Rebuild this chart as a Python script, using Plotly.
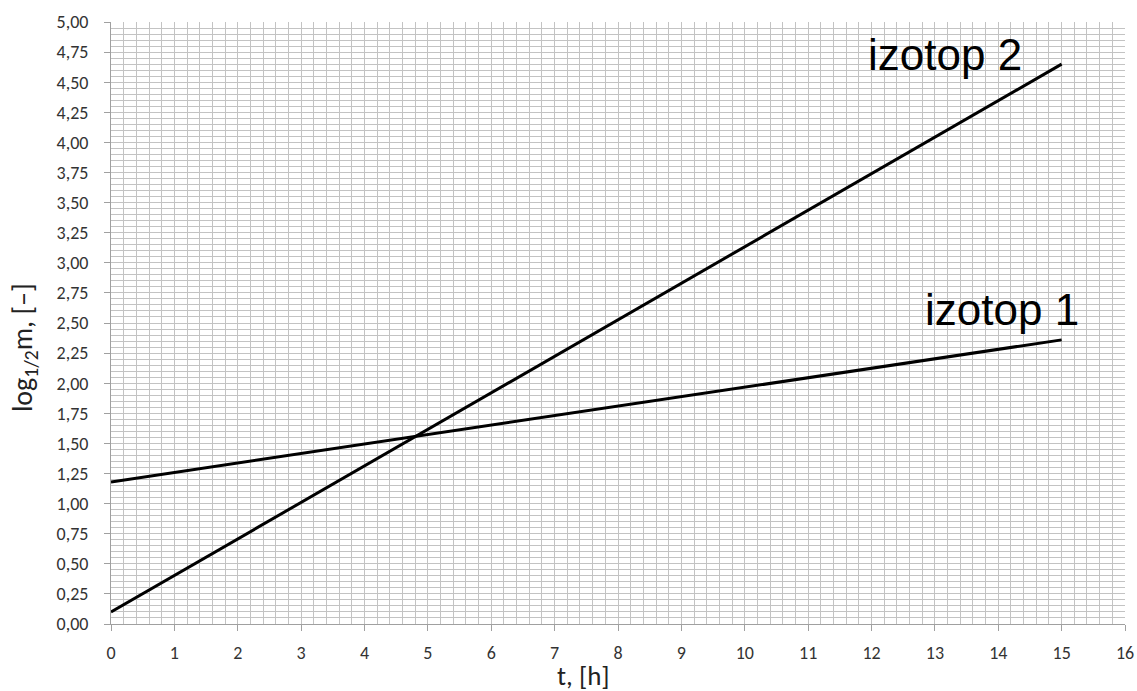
import plotly.graph_objects as go

t_values = [0, 15]
izotop1 = [1.18, 2.36]
izotop2 = [0.10, 4.65]
series_names = ["izotop 1", "izotop 2"]
label_pos = {"izotop 1": (14.06, 2.61), "izotop 2": (13.16, 4.73)}

fig = go.Figure()
for name, vals in zip(series_names, [izotop1, izotop2]):
    fig.add_trace(go.Scatter(x=t_values, y=vals, mode="lines", name=name,
                             line=dict(color="black", width=3), showlegend=False))
    lx, ly = label_pos[name]
    fig.add_annotation(x=lx, y=ly, text=name, showarrow=False,
                       font=dict(family="Liberation Sans, Arial", size=44, color="black"))

tfont = "Carlito, Liberation Sans, Arial"
fig.add_annotation(xref="paper", yref="paper", x=0.4655, y=-0.085, text="t, [h]",
                   showarrow=False, xanchor="center", yanchor="middle",
                   font=dict(family=tfont, size=27, color="#222"))
fig.add_annotation(xref="paper", yref="paper", x=-0.0858, y=0.46, text="log<sub>1/2</sub>m, [–]",
                   showarrow=False, xanchor="center", yanchor="middle", textangle=-90,
                   font=dict(family=tfont, size=28, color="#222"))

grid = "#c3c3c3"
tick_font = dict(family=tfont, size=18, color="#333")
fig.update_layout(
    width=1137, height=691,
    margin=dict(l=111, r=12, t=22, b=67),
    plot_bgcolor="white", paper_bgcolor="white",
    separators=",.",
    font=dict(family=tfont, size=18, color="#333"),
    xaxis=dict(range=[0, 16], dtick=1, tick0=0, showgrid=True, gridcolor=grid, gridwidth=1,
               minor=dict(dtick=0.2, showgrid=True, gridcolor=grid, gridwidth=1),
               showline=True, linecolor="#a0a0a0", linewidth=1,
               ticks="outside", ticklen=6, tickcolor="#a0a0a0", tickfont=tick_font,
               ticklabelposition="outside", ticklabelstandoff=6,
               zeroline=False, automargin=False),
    yaxis=dict(range=[0, 5], dtick=0.25, tick0=0, tickformat=".2f", showgrid=True, gridcolor=grid, gridwidth=1,
               minor=dict(dtick=0.05, showgrid=True, gridcolor=grid, gridwidth=1),
               showline=True, linecolor="#a0a0a0", linewidth=1,
               ticks="outside", ticklen=6, tickcolor="#a0a0a0", tickfont=tick_font,
               ticklabelposition="outside", ticklabelstandoff=12,
               zeroline=False, automargin=False),
)
fig.write_html("out.html", config={"displayModeBar": False},
               post_script="document.body.style.margin='0';document.body.style.overflow='hidden';")
